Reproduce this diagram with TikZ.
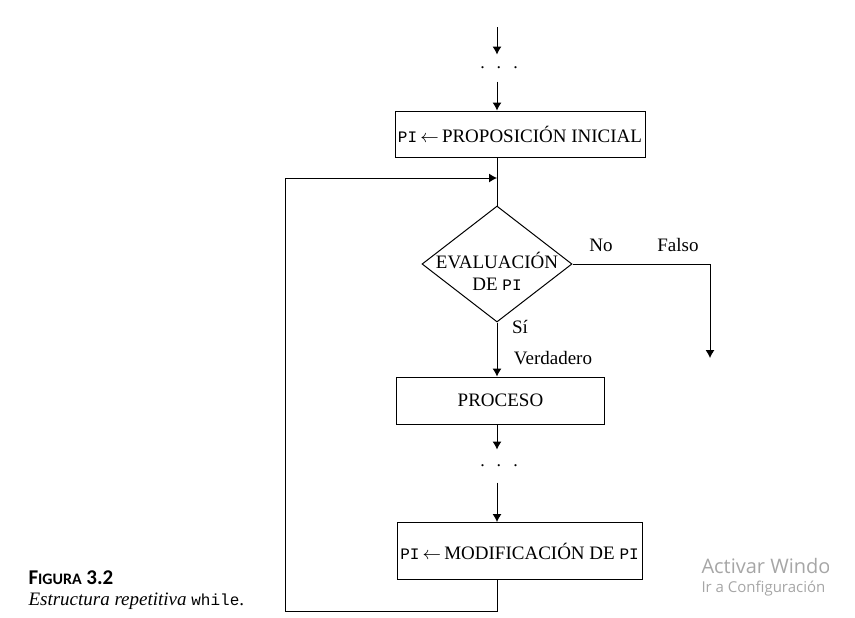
\documentclass[tikz,border=0pt]{standalone}
\usepackage{fontspec}
\setmainfont{Liberation Serif}
\setmonofont{Liberation Mono}
\newfontfamily\capfont{Carlito}
\newfontfamily\winfont{Open Sans}
\usetikzlibrary{shapes.geometric,arrows.meta}
\tikzset{
	flowbox/.style={draw, rectangle, inner sep=0pt, font=\fontsize{9.5}{11}\selectfont},
	dotsbox/.style={inner sep=0pt, minimum height=#1, font=\fontsize{9}{10}\selectfont},
	condbox/.style={draw, diamond, inner sep=0pt, minimum width=75pt, minimum height=58pt},
	tag/.style={font=\fontsize{9.5}{11}\selectfont, inner sep=0pt}
}
\newcommand{\pivar}{{\ttfamily\fontsize{8}{9}\selectfont PI}}
\begin{document}
\begin{tikzpicture}[x=0.5pt, y=-0.5pt, line width=0.5pt, >={Latex[length=4pt,width=4.5pt]}]
				\clip (0,0) rectangle (855,617);
				%bloques
				\coordinate (start) at (497,27);
				\node[dotsbox=13pt] (dots1) at (499,68) {.\hspace{6pt}.\hspace{6pt}.};
				\node[flowbox, minimum width=125pt, minimum height=23pt] (init) at (520,134) {\pivar\,$\leftarrow$\,PROPOSICIÓN INICIAL};
				\node[condbox] (eval) at (497,264) {};
				\node[tag, align=center] (evaltxt) at (497,271) {EVALUACIÓN\\DE \pivar};
				\node[flowbox, minimum width=104pt, minimum height=23.5pt] (proc) at (500.5,400.5) {PROCESO};
				\node[dotsbox=16pt] (dots2) at (499,466) {.\hspace{6pt}.\hspace{6pt}.};
				\node[flowbox, minimum width=122.5pt, minimum height=28.5pt] (modif) at (519.5,551) {\pivar\,$\leftarrow$\,MODIFICACIÓN DE \pivar};
				\coordinate (merge) at (497,178);
				\coordinate (loopleft) at (285,178);
				\coordinate (loopbot) at (497,611);
				\coordinate (falsoend) at (710,358);
				%flechas
				\draw[->] (start) -- (dots1.north -| start);
				\draw[->] (dots1.south -| start) -- (start |- init.north);
				\draw (start |- init.south) -- (eval.north);
				\draw[->] (eval.south) -- (start |- proc.north);
				\draw[->] (start |- proc.south) -- (dots2.north -| start);
				\draw[->] (dots2.south -| start) -- (start |- modif.north);
				\draw[->] (eval.east) -| (falsoend);
				\draw[->] (start |- modif.south) -- (loopbot) -| (loopleft) -- (merge);
				%etiquetas
				\node[tag] (no) at (601,245) {No};
				\node[tag] (falso) at (678,245) {Falso};
				\node[tag] (si) at (520,327) {Sí};
				\node[tag] (verdad) at (553,358) {Verdadero};
				%leyenda
				\node[anchor=west, inner sep=0pt, font=\capfont\bfseries\fontsize{10.5}{12}\selectfont] (figcap) at (28,578) {F{\fontsize{8}{10}\selectfont IGURA} 3.2};
				\node[anchor=west, inner sep=0pt, font=\fontsize{9.5}{11}\selectfont] (figtxt) at (28,601) {\textit{Estructura repetitiva} {\ttfamily\fontsize{8}{9}\selectfont while}.};
				%marca de agua
				\begin{scope}
					\clip (690,545) rectangle (828,605);
					\node[anchor=west, inner sep=0pt, text=black!35, font=\winfont\fontsize{10}{12}\selectfont] (win1) at (701,566) {Activar Windows};
					\node[anchor=west, inner sep=0pt, text=black!35, font=\winfont\fontsize{7.5}{9}\selectfont] (win2) at (701,589) {Ir a Configuración de PC para activar Windows.};
				\end{scope}
\end{tikzpicture}
\end{document}
